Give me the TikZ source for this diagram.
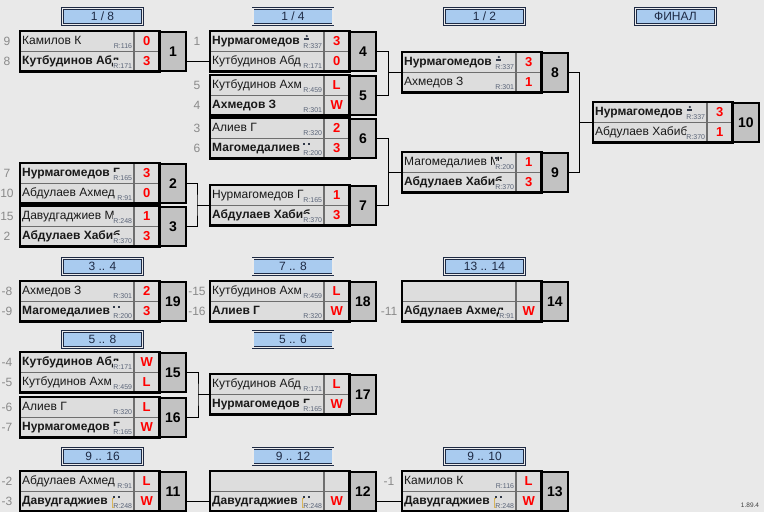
\documentclass[tikz,border=0pt]{standalone}
\usepackage{fontspec}
\setmainfont{Liberation Sans}

\definecolor{bgc}{HTML}{E9E9E9}
\definecolor{cellc}{HTML}{DDDDDD}
\definecolor{numc}{HTML}{C2C2C2}
\definecolor{linec}{HTML}{6E6E6E}
\definecolor{stagec}{HTML}{A9CBEF}
\definecolor{stageb}{HTML}{1E2A44}
\definecolor{seedc}{HTML}{8A8A8A}
\definecolor{ratec}{HTML}{5A6478}
\definecolor{iconc}{HTML}{303848}
\definecolor{goldc}{HTML}{D8B45A}
\definecolor{scorec}{HTML}{FF0000}

\newcommand{\game}[4]{% name, x, y, number
  \node[namecell] (#1a) at (#2,#3) {};
  \node[namecell, below=0pt of #1a] (#1b) {};
  \node[numcell] (#1) at ($(#1a.north east)+(25,0)$) {#4};
}
\newcommand{\pl}[4]{% cell, win/lose, name, rating
  \node[#2] (#1t) at ($(#1.west)+(2,0)$) {#3};
  \node[rating] (#1r) at ($(#1.south east)+(-1,-0.5)$) {R:#4};
}
\newcommand{\result}[3]{% name, upper score, lower score
  \node[scorecell, right=0pt of #1a] (#1as) {#2};
  \node[scorecell, right=0pt of #1b] (#1bs) {#3};
  \draw[frame] (#1a.north west) rectangle (#1bs.south east);
}
\newcommand{\seed}[2]{\node[seed] (#1sd) at ($(#1.west)+(-13,0)$) {#2};}
\newcommand{\pawn}[1]{%
  \fill[iconc] ($(#1.north east)+(-17,5)$) circle (1.2pt);
  \fill[iconc] ($(#1.north east)+(-19.5,7)$) rectangle ($(#1.north east)+(-14.5,9)$);
}
\newcommand{\twodots}[1]{%
  \fill[iconc] ($(#1.north east)+(-21,4.5)$) rectangle ++(2.2,2.2);
  \fill[iconc] ($(#1.north east)+(-16,4.5)$) rectangle ++(2.2,2.2);
}
\newcommand{\goldmark}[1]{%
  \draw[goldc, line width=1pt] ($(#1.north east)+(-20,7)$) -- ++(-1.5,0) -- ++(0,9) -- ++(1.5,0);
}

\begin{document}
\begin{tikzpicture}[x=1pt, y=-1pt,
    namecell/.style={anchor=north west, minimum width=113pt, minimum height=19.5pt,
        inner sep=0pt, fill=cellc, draw=linec, line width=0.8pt},
    scorecell/.style={minimum width=25pt, minimum height=19.5pt, inner sep=0pt,
        fill=cellc, draw=linec, line width=0.8pt, text=scorec,
        font=\fontsize{13}{13}\selectfont\bfseries},
    numcell/.style={anchor=north west, minimum width=26pt, minimum height=39pt,
        inner sep=0pt, fill=numc, draw=black, line width=2.2pt,
        font=\fontsize{14}{14}\selectfont\bfseries},
    frame/.style={draw=black, line width=2.4pt},
    win/.style={anchor=west, inner sep=0pt, text height=9pt, text depth=2.5pt,
        font=\fontsize{12}{12}\selectfont\bfseries, text=black!90},
    lose/.style={anchor=west, inner sep=0pt, text height=9pt, text depth=2.5pt,
        font=\fontsize{12}{12}\selectfont, text=black!90},
    rating/.style={anchor=south east, fill=cellc, inner xsep=0.5pt, inner ysep=0.5pt,
        text height=8pt, text depth=2pt, text=ratec, font=\fontsize{7}{7}\selectfont},
    seed/.style={text=seedc, font=\fontsize{12}{12}\selectfont},
    stage/.style={minimum width=80pt, minimum height=16pt, inner sep=0pt,
        fill=stagec, draw=stageb, line width=0.8pt, double=white!92!black,
        double distance=1.2pt, text=stageb, font=\fontsize{12}{12}\selectfont},
    link/.style={draw=black, line width=1pt}]
    \usetikzlibrary{positioning,calc}
    \fill[bgc] (0,0) rectangle (764,512);
    \useasboundingbox (0,0) rectangle (764,512);

    \node[stage] (st1) at (102.5,16.5) {1 / 8};
    \node[stage] (st2) at (293,16.5) {1 / 4};
    \node[stage] (st3) at (484.5,16.5) {1 / 2};
    \node[stage] (st4) at (675.5,16.5) {ФИНАЛ};
    \node[stage] (st5) at (102.5,266.5) {3 .. 4};
    \node[stage] (st6) at (293,266.5) {7 .. 8};
    \node[stage] (st7) at (484.5,266.5) {13 .. 14};
    \node[stage] (st8) at (102.5,339.5) {5 .. 8};
    \node[stage] (st9) at (293,339.5) {5 .. 6};
    \node[stage] (st10) at (102.5,456.5) {9 .. 16};
    \node[stage] (st11) at (293,456.5) {9 .. 12};
    \node[stage] (st12) at (484.5,456.5) {9 .. 10};

    % 1/8
    \game{m1}{20}{31}{1}
    \pl{m1a}{lose}{Камилов К}{116}
    \pl{m1b}{win}{Кутбудинов Абд}{171}
    \result{m1}{0}{3}
    \seed{m1a}{9} \seed{m1b}{8}

    \game{m2}{20}{163}{2}
    \pl{m2a}{win}{Нурмагомедов Г}{165}
    \pl{m2b}{lose}{Абдулаев Ахмед}{91}
    \result{m2}{3}{0}
    \seed{m2a}{7} \seed{m2b}{10}

    \game{m3}{20}{206}{3}
    \pl{m3a}{lose}{Давудгаджиев М}{248}
    \pl{m3b}{win}{Абдулаев Хабиб}{370}
    \result{m3}{1}{3}
    \seed{m3a}{15} \seed{m3b}{2}

    % 1/4
    \game{m4}{210}{31}{4}
    \pl{m4a}{win}{Нурмагомедов}{337} \pawn{m4a}
    \pl{m4b}{lose}{Кутбудинов Абд}{171}
    \result{m4}{3}{0}
    \seed{m4a}{1}

    \game{m5}{210}{75}{5}
    \pl{m5a}{lose}{Кутбудинов Ахм}{459}
    \pl{m5b}{win}{Ахмедов З}{301}
    \result{m5}{L}{W}
    \seed{m5a}{5} \seed{m5b}{4}

    \game{m6}{210}{118}{6}
    \pl{m6a}{lose}{Алиев Г}{320}
    \pl{m6b}{win}{Магомедалиев}{200} \twodots{m6b}
    \result{m6}{2}{3}
    \seed{m6a}{3} \seed{m6b}{6}

    \game{m7}{210}{185}{7}
    \pl{m7a}{lose}{Нурмагомедов Г}{165}
    \pl{m7b}{win}{Абдулаев Хабиб}{370}
    \result{m7}{1}{3}

    % 1/2 and final
    \game{m8}{402}{52}{8}
    \pl{m8a}{win}{Нурмагомедов}{337} \pawn{m8a}
    \pl{m8b}{lose}{Ахмедов З}{301}
    \result{m8}{3}{1}

    \game{m9}{402}{152}{9}
    \pl{m9a}{lose}{Магомедалиев М}{200} \twodots{m9a}
    \pl{m9b}{win}{Абдулаев Хабиб}{370}
    \result{m9}{1}{3}

    \game{m10}{593}{102}{10}
    \pl{m10a}{win}{Нурмагомедов}{337} \pawn{m10a}
    \pl{m10b}{lose}{Абдулаев Хабиб}{370}
    \result{m10}{3}{1}

    % places 3..14
    \game{m19}{20}{281}{19}
    \pl{m19a}{lose}{Ахмедов З}{301}
    \pl{m19b}{win}{Магомедалиев}{200} \twodots{m19b}
    \result{m19}{2}{3}
    \seed{m19a}{-8} \seed{m19b}{-9}

    \game{m18}{210}{281}{18}
    \pl{m18a}{lose}{Кутбудинов Ахм}{459}
    \pl{m18b}{win}{Алиев Г}{320}
    \result{m18}{L}{W}
    \seed{m18a}{-15} \seed{m18b}{-16}

    \game{m14}{402}{281}{14}
    \pl{m14b}{win}{Абдулаев Ахмед}{91}
    \result{m14}{}{W}
    \seed{m14b}{-11}

    \game{m15}{20}{352}{15}
    \pl{m15a}{win}{Кутбудинов Абд}{171}
    \pl{m15b}{lose}{Кутбудинов Ахм}{459}
    \result{m15}{W}{L}
    \seed{m15a}{-4} \seed{m15b}{-5}

    \game{m16}{20}{397}{16}
    \pl{m16a}{lose}{Алиев Г}{320}
    \pl{m16b}{win}{Нурмагомедов Г}{165}
    \result{m16}{L}{W}
    \seed{m16a}{-6} \seed{m16b}{-7}

    \game{m17}{210}{374}{17}
    \pl{m17a}{lose}{Кутбудинов Абд}{171}
    \pl{m17b}{win}{Нурмагомедов Г}{165}
    \result{m17}{L}{W}

    \game{m11}{20}{471}{11}
    \pl{m11a}{lose}{Абдулаев Ахмед}{91}
    \pl{m11b}{win}{Давудгаджиев}{248} \twodots{m11b} \goldmark{m11b}
    \result{m11}{L}{W}
    \seed{m11a}{-2} \seed{m11b}{-3}

    \game{m12}{210}{471}{12}
    \pl{m12b}{win}{Давудгаджиев}{248} \twodots{m12b} \goldmark{m12b}
    \result{m12}{}{W}

    \game{m13}{402}{471}{13}
    \pl{m13a}{lose}{Камилов К}{116}
    \pl{m13b}{win}{Давудгаджиев}{248} \twodots{m13b} \goldmark{m13b}
    \result{m13}{L}{W}
    \seed{m13a}{-1}

    % connectors
    \draw[link] (m1.east |- m4b.west) -- (m4b.west);
    \coordinate (j7) at ($(m7a.south west)+(-13,0)$);
    \draw[link] (m2.east) -| (j7) |- (m3.east);
    \draw[link] (j7) -- (m7a.south west);
    \coordinate (j8) at ($(m8a.south west)+(-13.5,0)$);
    \draw[link] (m4.east) -| (j8) |- (m5.east);
    \draw[link] (j8) -- (m8a.south west);
    \coordinate (j9) at ($(m9a.south west)+(-13.5,0)$);
    \draw[link] (m6.east) -| (j9) |- (m7.east);
    \draw[link] (j9) -- (m9a.south west);
    \coordinate (j10) at ($(m10a.south west)+(-13.5,0)$);
    \draw[link] (m8.east) -| (j10) |- (m9.east);
    \draw[link] (j10) -- (m10a.south west);
    \coordinate (j17) at ($(m17a.south west)+(-12,0)$);
    \draw[link] (m15.east) -| (j17) |- (m16.east);
    \draw[link] (j17) -- (m17a.south west);
    \draw[link] (m11.east |- m12b.west) -- (m12b.west);
    \draw[link] (m12.east |- m13b.west) -- (m13b.west);

    \node[text=black!75, font=\fontsize{6.5}{7}\selectfont] (ver) at (750,505) {1.89.4};
\end{tikzpicture}
\end{document}
